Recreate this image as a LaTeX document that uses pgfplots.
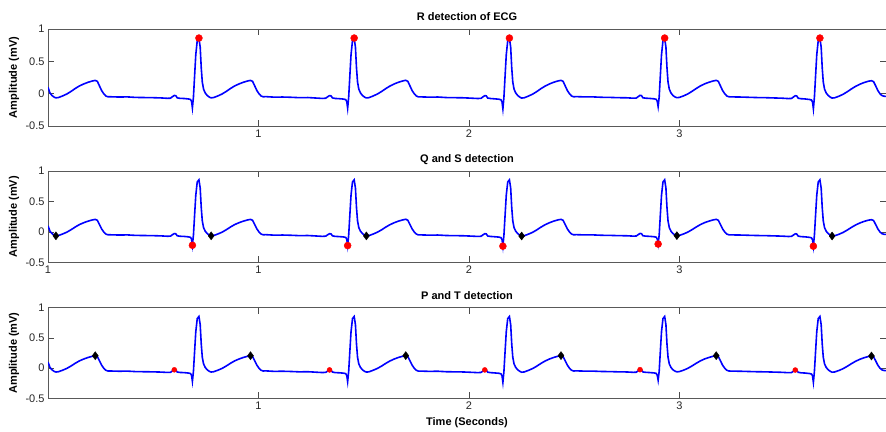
\documentclass[border=0pt]{standalone}
\usepackage{pgfplots}
\pgfplotsset{compat=1.18}
\usepackage{pgfplotstable}
\usepackage{fontspec}
\setmainfont{Liberation Sans}

\pgfplotstableread{
t v
0.000 0.10
0.0095 0.01
0.0195 -0.03
0.0295 -0.055
0.0375 -0.065
0.0495 -0.060
0.0695 -0.035
0.0895 -0.005
0.1095 0.035
0.1295 0.080
0.1495 0.120
0.1695 0.150
0.1895 0.175
0.2095 0.195
0.2245 0.205
0.2345 0.190
0.2445 0.120
0.2545 0.050
0.2645 0.000
0.2745 -0.035
0.2845 -0.048
0.297 -0.048
0.337 -0.052
0.377 -0.050
0.417 -0.058
0.457 -0.060
0.497 -0.062
0.537 -0.066
0.567 -0.072
0.582 -0.070
0.592 -0.045
0.600 -0.028
0.607 -0.032
0.614 -0.065
0.627 -0.072
0.647 -0.075
0.667 -0.082
0.677 -0.09
0.682 -0.12
0.686 -0.22
0.691 -0.05
0.696 0.25
0.702 0.60
0.709 0.82
0.717 0.855
0.723 0.72
0.728 0.40
0.733 0.18
0.739 0.07
0.747 0.01
0.757 -0.03
0.767 -0.055
0.775 -0.065
0.787 -0.060
0.807 -0.035
0.827 -0.005
0.847 0.035
0.867 0.080
0.887 0.120
0.907 0.150
0.927 0.175
0.947 0.195
0.962 0.205
0.972 0.190
0.982 0.120
0.992 0.050
1.002 0.000
1.012 -0.035
1.022 -0.048
1.0345 -0.046
1.0745 -0.054
1.1145 -0.052
1.1545 -0.056
1.1945 -0.062
1.2345 -0.060
1.2745 -0.068
1.3045 -0.074
1.3195 -0.070
1.3295 -0.046
1.3375 -0.030
1.3445 -0.034
1.3515 -0.066
1.3645 -0.074
1.3845 -0.078
1.4045 -0.084
1.4145 -0.092
1.4195 -0.125
1.4235 -0.225
1.4285 -0.05
1.4335 0.25
1.4395 0.60
1.4465 0.82
1.4545 0.855
1.4605 0.72
1.4655 0.40
1.4705 0.18
1.4765 0.07
1.4845 0.01
1.4945 -0.03
1.5045 -0.055
1.5125 -0.066
1.5245 -0.062
1.5445 -0.036
1.5645 -0.006
1.5845 0.033
1.6045 0.078
1.6245 0.118
1.6445 0.150
1.6645 0.176
1.6845 0.196
1.6995 0.207
1.7095 0.190
1.7195 0.120
1.7295 0.050
1.7395 0.000
1.7495 -0.035
1.7595 -0.050
1.772 -0.050
1.812 -0.054
1.852 -0.052
1.892 -0.060
1.932 -0.062
1.972 -0.064
2.012 -0.070
2.042 -0.075
2.057 -0.072
2.067 -0.048
2.075 -0.030
2.082 -0.034
2.089 -0.068
2.102 -0.075
2.122 -0.080
2.142 -0.086
2.152 -0.095
2.157 -0.13
2.161 -0.235
2.166 -0.05
2.171 0.25
2.177 0.60
2.184 0.82
2.192 0.855
2.198 0.72
2.203 0.40
2.208 0.18
2.214 0.07
2.222 0.01
2.232 -0.03
2.242 -0.055
2.250 -0.068
2.262 -0.064
2.282 -0.038
2.302 -0.008
2.322 0.032
2.342 0.078
2.362 0.118
2.382 0.150
2.402 0.176
2.422 0.196
2.437 0.206
2.447 0.190
2.457 0.120
2.467 0.050
2.477 0.000
2.487 -0.035
2.497 -0.048
2.5095 -0.046
2.5495 -0.050
2.5895 -0.050
2.6295 -0.056
2.6695 -0.058
2.7095 -0.062
2.7495 -0.064
2.7795 -0.070
2.7945 -0.068
2.8045 -0.044
2.8125 -0.026
2.8195 -0.030
2.8265 -0.064
2.8395 -0.070
2.8595 -0.074
2.8795 -0.080
2.8895 -0.088
2.8945 -0.12
2.8985 -0.20
2.9035 -0.05
2.9085 0.25
2.9145 0.60
2.9215 0.82
2.9295 0.855
2.9355 0.72
2.9405 0.40
2.9455 0.18
2.9515 0.07
2.9595 0.01
2.9695 -0.03
2.9795 -0.052
2.9875 -0.062
2.9995 -0.058
3.0195 -0.034
3.0395 -0.004
3.0595 0.036
3.0795 0.080
3.0995 0.120
3.1195 0.152
3.1395 0.176
3.1595 0.196
3.1745 0.206
3.1845 0.190
3.1945 0.120
3.2045 0.050
3.2145 0.000
3.2245 -0.035
3.2345 -0.048
3.247 -0.050
3.287 -0.052
3.327 -0.056
3.367 -0.060
3.407 -0.062
3.447 -0.066
3.487 -0.070
3.517 -0.076
3.532 -0.074
3.542 -0.050
3.550 -0.032
3.557 -0.036
3.564 -0.070
3.577 -0.078
3.597 -0.082
3.617 -0.090
3.627 -0.098
3.632 -0.13
3.636 -0.235
3.641 -0.05
3.646 0.25
3.652 0.60
3.659 0.82
3.667 0.855
3.673 0.72
3.678 0.40
3.683 0.18
3.689 0.07
3.697 0.01
3.707 -0.03
3.717 -0.055
3.725 -0.068
3.737 -0.064
3.757 -0.040
3.777 -0.010
3.797 0.030
3.817 0.074
3.837 0.114
3.857 0.146
3.877 0.172
3.897 0.192
3.912 0.200
3.922 0.186
3.932 0.120
3.942 0.050
3.952 0.000
3.962 -0.030
3.972 -0.040
3.981 -0.042
}\ecg

\pgfplotsset{ecg/.style={
  scale only axis, width=838pt, anchor=south west,
  xmin=0, xmax=3.981, ymin=-0.5, ymax=1,
  xtick={1,2,3}, xticklabels={1,2,3},
  ytick={-0.5,0,0.5,1}, yticklabels={-0.5,0,0.5,1},
  tick align=inside, major tick length=6pt,
  axis line style={black!65, line width=0.8pt},
  tick style={black!70, line width=0.6pt},
  ticklabel style={font=\fontsize{11}{12}\selectfont, text=black!85},
  title style={font=\bfseries\fontsize{11}{12}\selectfont, at={(axis description cs:0.5,1)}, anchor=base, yshift=2pt},
  ylabel={Amplitude (mV)},
  ylabel style={font=\bfseries\fontsize{11}{12}\selectfont, at={(axis description cs:0,0.5)}, anchor=center, yshift=34pt},
  xlabel style={font=\bfseries\fontsize{11}{12}\selectfont, at={(axis description cs:0.5,0)}, anchor=center, yshift=-24.5pt},
}}

\begin{document}
\begin{tikzpicture}[x=1pt,y=1pt]
\useasboundingbox (0,0) rectangle (886,431);
% top
\begin{axis}[ecg, at={(48pt,305pt)}, height=97pt, title={R detection of ECG}]
\addplot[color={rgb,255:red,0;green,0;blue,255}, line width=1.6pt, mark=none] table {\ecg};
\addplot[only marks, mark=*, mark size=3.5pt, color=red, fill=red] coordinates {(0.717,0.86) (1.4545,0.86) (2.192,0.86) (2.9295,0.86) (3.667,0.86)};
\end{axis}
% middle
\begin{axis}[ecg, at={(48pt,168.7pt)}, height=91.3pt, title={Q and S detection}, xtick={0,1,2,3}, xticklabels={1,1,2,3}]
\addplot[color={rgb,255:red,0;green,0;blue,255}, line width=1.6pt, mark=none] table {\ecg};
\addplot[only marks, mark=*, mark size=3.5pt, color=red, fill=red] coordinates {(0.686,-0.22) (1.4235,-0.225) (2.161,-0.235) (2.8985,-0.20) (3.636,-0.235)};
\addplot[only marks, mark=diamond*, mark size=4pt, color=black, fill=black] coordinates {(0.0375,-0.065) (0.775,-0.065) (1.5125,-0.066) (2.250,-0.068) (2.9875,-0.062) (3.725,-0.068)};
\end{axis}
% bottom
\begin{axis}[ecg, at={(48pt,32.7pt)}, height=90.6pt, title={P and T detection}, xlabel={Time (Seconds)}]
\addplot[color={rgb,255:red,0;green,0;blue,255}, line width=1.6pt, mark=none] table {\ecg};
\addplot[only marks, mark=*, mark size=2.5pt, color=red, fill=red] coordinates {(0.600,-0.028) (1.3375,-0.030) (2.075,-0.030) (2.8125,-0.026) (3.550,-0.032)};
\addplot[only marks, mark=diamond*, mark size=4pt, color=black, fill=black] coordinates {(0.2245,0.205) (0.962,0.205) (1.6995,0.207) (2.437,0.206) (3.1745,0.206) (3.912,0.200)};
\end{axis}
\end{tikzpicture}
\end{document}
